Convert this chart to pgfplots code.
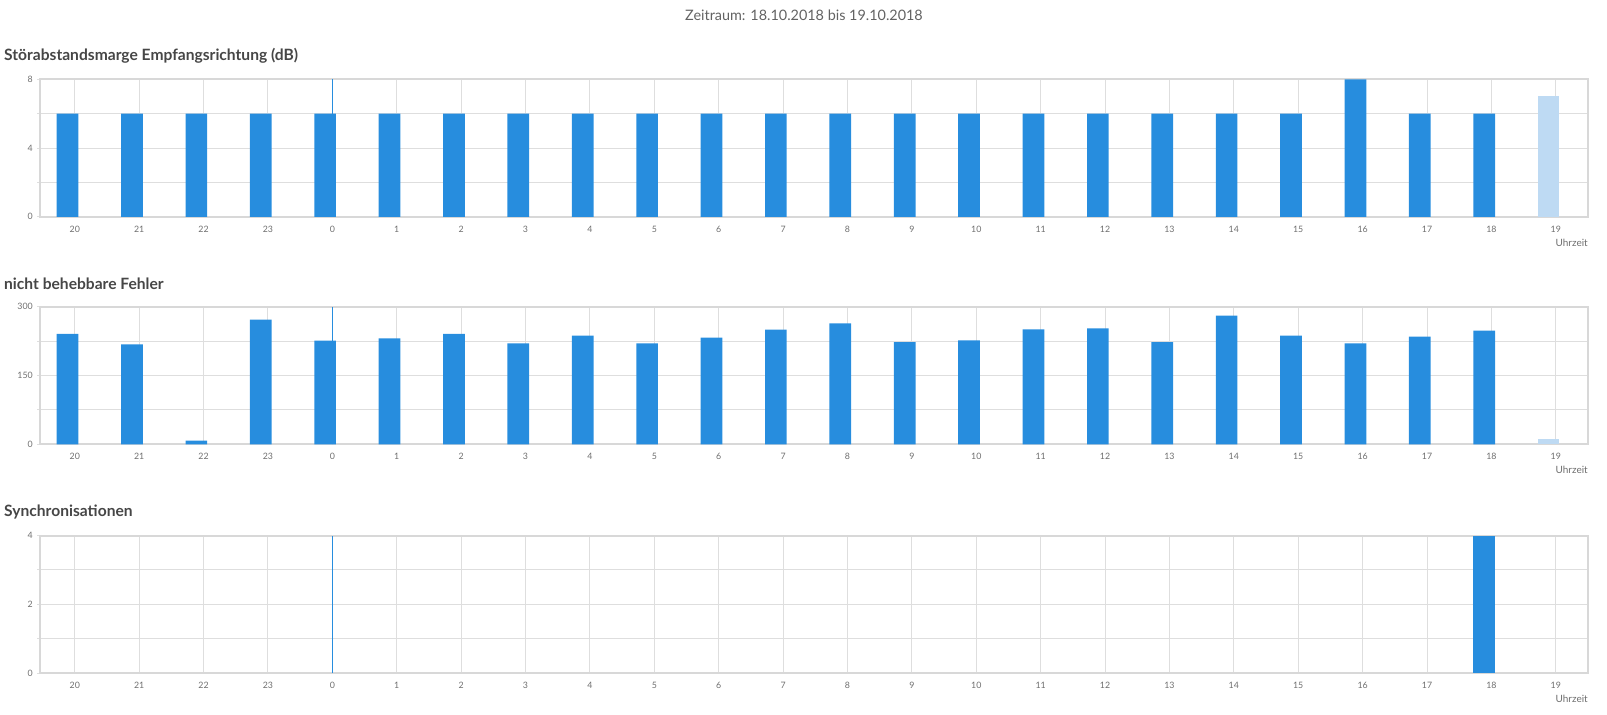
\documentclass[border=0pt]{standalone}
\usepackage{pgfplots}
\pgfplotsset{compat=1.18}
\usepackage{fontspec}
\setmainfont{Lato}
\definecolor{barblue}{RGB}{39,141,222}
\definecolor{barlight}{RGB}{190,218,243}
\definecolor{gridgray}{RGB}{222,222,222}
\definecolor{bordergray}{RGB}{216,216,216}
\definecolor{ticktext}{RGB}{110,110,110}
\definecolor{titletext}{RGB}{70,70,70}
\pgfplotsset{
  panel/.style={
    scale only axis, width=1548pt, height=137.5pt,
    xmin=-0.54, xmax=23.5, ymin=0,
    xtick={0,...,23},
    xticklabels={20,21,22,23,0,1,2,3,4,5,6,7,8,9,10,11,12,13,14,15,16,17,18,19},
    xmajorgrids, ymajorgrids, yminorgrids,
    grid style={color=gridgray, line width=1pt},
    minor grid style={color=gridgray, line width=1pt},
    axis line style={color=bordergray, line width=2pt},
    xtick style={draw=none},
    ytick pos=left, xtick pos=bottom,
    tick align=outside,
    major tick length=3pt, minor tick length=3pt,
    ytick style={color=gridgray, line width=1pt},
    minor tick style={color=gridgray, line width=1pt},
    /pgf/number format/assume math mode=true,
    tick label style={font=\fontsize{8.8}{11}\selectfont, text=ticktext, inner sep=0pt},
    xticklabel style={anchor=north, yshift=-6pt},
    yticklabel style={anchor=east, xshift=-4pt},
    ybar, bar width=21.7pt, bar shift=-7.2pt,
    clip=false,
  }
}
\begin{document}
\begin{tikzpicture}
\path[use as bounding box] (0,0) rectangle (1607pt,-715pt);
\node[font=\fontsize{14.4}{17}\selectfont, text=titletext!85!white] at (804pt,-15pt) {Zeitraum: 18.10.2018 bis 19.10.2018};
\node[anchor=west, inner sep=0pt, font=\fontsize{15.6}{18}\selectfont\bfseries, text=titletext] at (4pt,-56pt) {Störabstandsmarge Empfangsrichtung (dB)};
\node[anchor=west, inner sep=0pt, font=\fontsize{15.6}{18}\selectfont\bfseries, text=titletext] at (4pt,-284pt) {nicht behebbare Fehler};
\node[anchor=west, inner sep=0pt, font=\fontsize{15.6}{18}\selectfont\bfseries, text=titletext] at (4pt,-512pt) {Synchronisationen};

% Panel 1
\begin{axis}[panel, name=ax1, at={(40pt,-216.8pt)}, anchor=south west,
  ymax=8, ytick={0,4,8}, minor ytick={2,6}]
\addplot[sharp plot, barblue, line width=1.2pt, forget plot] coordinates {(4,0) (4,8)};
\addplot[fill=barblue, draw=none] coordinates {
(0,6) (1,6) (2,6) (3,6) (4,6) (5,6) (6,6) (7,6) (8,6) (9,6) (10,6) (11,6)
(12,6) (13,6) (14,6) (15,6) (16,6) (17,6) (18,6) (19,6) (20,8) (21,6) (22,6)};
\addplot[fill=barlight, draw=none] coordinates {(23,7)};
\end{axis}
\node[anchor=east, inner sep=0pt, font=\fontsize{10}{12}\selectfont, text=ticktext] at ([yshift=-26pt]ax1.south east) {Uhrzeit};

% Panel 2
\begin{axis}[panel, name=ax2, at={(40pt,-444.3pt)}, anchor=south west,
  ymax=300, ytick={0,150,300}, minor ytick={75,225}]
\addplot[sharp plot, barblue, line width=1.2pt, forget plot] coordinates {(4,0) (4,300)};
\addplot[fill=barblue, draw=none] coordinates {
(0,241) (1,218) (2,8) (3,272) (4,226) (5,231) (6,241) (7,220) (8,237) (9,220)
(10,233) (11,250) (12,264) (13,223) (14,227) (15,251) (16,253) (17,223)
(18,281) (19,237) (20,220) (21,235) (22,248)};
\addplot[fill=barlight, draw=none] coordinates {(23,12)};
\end{axis}
\node[anchor=east, inner sep=0pt, font=\fontsize{10}{12}\selectfont, text=ticktext] at ([yshift=-26pt]ax2.south east) {Uhrzeit};

% Panel 3
\begin{axis}[panel, name=ax3, at={(40pt,-673pt)}, anchor=south west,
  ymax=4, ytick={0,2,4}, minor ytick={1,3}]
\addplot[sharp plot, barblue, line width=1.2pt, forget plot] coordinates {(4,0) (4,4)};
\addplot[fill=barblue, draw=none] coordinates {(22,4)};
\end{axis}
\node[anchor=east, inner sep=0pt, font=\fontsize{10}{12}\selectfont, text=ticktext] at ([yshift=-26pt]ax3.south east) {Uhrzeit};
\end{tikzpicture}
\end{document}
